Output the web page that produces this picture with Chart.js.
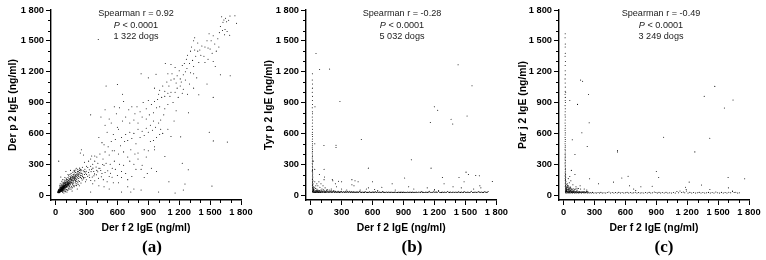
<!DOCTYPE html>
<html><head><meta charset="utf-8">
<style>
html,body{margin:0;padding:0;background:#fff;width:766px;height:260px;overflow:hidden}
canvas{position:absolute;top:0}
.t{position:absolute;font-family:"Liberation Sans",Arial,sans-serif;font-size:9.1px;line-height:11.6px;text-align:center;color:#222;width:120px;top:8px}
.c{position:absolute;font-family:"Liberation Serif",serif;font-weight:bold;font-size:17px;line-height:16px;text-align:center;width:40px;top:239px;color:#000}
</style></head><body>
<canvas id="ca" width="256" height="260" style="left:0"></canvas>
<canvas id="cb" width="254" height="260" style="left:256px"></canvas>
<canvas id="cc" width="256" height="260" style="left:510px"></canvas>
<div class="t" style="left:76px">Spearman r = 0.92<br><i>P</i> &lt; 0.0001<br>1 322 dogs</div>
<div class="t" style="left:342px">Spearman r = -0.28<br><i>P</i> &lt; 0.0001<br>5 032 dogs</div>
<div class="t" style="left:601px">Spearman r = -0.49<br><i>P</i> &lt; 0.0001<br>3 249 dogs</div>
<div class="c" style="left:132px">(a)</div>
<div class="c" style="left:392px">(b)</div>
<div class="c" style="left:644px">(c)</div>
<script src="https://cdn.jsdelivr.net/npm/chart.js@4"></script>
<script>
const majorTicks=[0,300,600,900,1200,1500,1800];
const minorTicks=[100,200,400,500,700,800,1000,1100,1300,1400,1600,1700];
const xTitle="Der f 2 IgE (ng/ml)";
const yTitles=["Der p 2 IgE (ng/ml)","Tyr p 2 IgE (ng/ml)","Par j 2 IgE (ng/ml)"];

const derPointsHigh=[[1693,1741],[1741,1744],[1757,1670],[1612,1735],[1634,1702],[1660,1686],[1625,1680],[1650,1720],[1680,1700],[1600,1640],[1620,1600],[1645,1610],[1665,1590],[1690,1555],[1640,1560],[1590,1580],[1530,1550],[1490,1570],[1510,1500],[1545,1470],[1575,1520],[1470,1500],[1450,1440],[1480,1430],[1500,1420],[1520,1380],[1560,1400],[1585,1440],[1420,1450],[1380,1480],[1350,1530],[1340,1500],[1320,1440],[1310,1400],[1350,1410],[1380,1400],[1400,1410],[1410,1360],[1440,1350],[1360,1350],[1330,1310],[1280,1360],[1270,1320],[1300,1280],[1250,1280],[1275,1230],[1230,1260],[1340,1250],[1390,1290],[1450,1290],[1480,1320],[1530,1300],[1550,1250],[1600,1170],[1695,1160],[1530,950],[1470,1080],[1370,1140],[1310,1190],[1260,1200],[1240,1170],[1200,1210],[1160,1240],[1120,1270],[1065,1280],[1090,1180],[1130,1180],[1180,1160],[1150,1130],[1120,1120],[1080,1100],[1100,1060],[1170,1090],[1220,1100],[1260,1120],[1300,1080],[1340,1040],[1390,975],[1240,1030],[1210,1060],[1180,1040],[1160,1000],[1120,1000],[1090,990],[1060,1010],[1040,1060],[1010,1020],[1000,980],[960,1040],[1030,950],[1060,960],[1110,960],[1190,950],[1230,990],[1280,980],[975,1175],[900,1140],[830,1180],[650,980],[600,1075],[490,1060],[414,1514],[1667,515],[1492,611],[1531,527],[1518,87],[1256,107],[1230,310],[1288,246],[1214,566],[1061,375],[1290,800],[1150,720],[1020,730],[1340,1180],[1210,1130]];
const derPointsMiddle=[[990,930],[960,910],[930,880],[900,920],[880,840],[850,900],[820,810],[790,860],[770,790],[740,860],[710,830],[660,910],[620,850],[570,860],[590,790],[520,740],[480,830],[440,760],[340,780],[480,680],[540,700],[610,640],[650,720],[680,760],[720,700],[760,730],[800,700],[840,760],[880,740],[910,780],[950,800],[980,850],[1010,860],[950,720],[920,680],[880,650],[840,620],[800,640],[760,600],[720,610],[680,590],[640,560],[600,660],[560,590],[500,610],[420,560],[450,510],[470,490],[510,470],[540,520],[580,540],[630,480],[670,520],[700,530],[740,550],[780,500],[820,560],[860,580],[900,610],[940,630],[970,660],[1000,700],[1050,780],[1090,640],[1040,600],[1010,590],[980,560],[950,530],[960,470],[960,440],[900,430],[860,440],[800,410],[770,400],[730,440],[700,370],[660,420],[610,400],[570,430],[550,430],[520,390],[480,420],[430,400],[400,370],[380,380],[350,380],[340,350],[250,440],[240,410],[460,350],[490,310],[530,300],[570,330],[620,300],[660,290],[720,330],[760,300],[800,350],[840,290],[880,370],[920,520],[1120,570],[1170,820],[1090,880],[1140,900],[1060,840],[1020,640]];
const derPointsLow=[[470,290],[430,260],[400,240],[370,230],[350,250],[320,220],[300,200],[330,170],[380,140],[420,260],[450,210],[480,220],[520,180],[550,260],[600,190],[640,230],[680,210],[700,150],[740,180],[780,250],[830,250],[860,170],[890,210],[930,260],[980,230],[420,90],[470,80],[520,60],[360,110],[340,30],[640,30],[700,80],[760,60],[730,30],[830,50],[1000,30],[1160,20],[1240,50],[1100,130],[560,120],[610,120],[640,170],[580,250],[500,130],[270,390],[280,320],[300,280],[340,280],[360,300],[410,310],[380,330],[320,330],[260,270],[230,240],[240,250],[215,250],[200,260],[180,240],[190,220],[230,220],[250,210],[240,190],[220,180],[260,180],[280,200],[250,160],[290,130],[220,140],[200,110],[230,90],[180,80],[150,60],[120,50],[160,40],[210,60],[110,30],[80,20],[30,330],[50,175],[90,170],[120,200],[100,230],[145,240],[150,210],[170,200],[160,175],[190,175],[210,190],[225,205],[205,205],[195,195],[180,185],[175,165],[140,180],[130,160],[120,170],[105,150],[150,150],[165,145],[185,150],[200,150],[170,130],[150,125],[130,130],[115,120],[100,125],[90,135],[85,110],[75,125],[60,135],[45,110],[40,95],[125,105],[145,100],[165,105],[190,120],[135,85],[115,90],[155,85],[100,75],[105,55],[85,60],[95,40],[70,35],[130,70],[70,150],[210,170],[235,175],[245,225],[170,95],[215,120]];
const derPointsBlob=[[20,25],[25,22],[28,30],[32,26],[35,35],[30,40],[24,34],[38,24],[42,30],[45,38],[36,44],[28,46],[33,30],[40,40],[44,44],[48,34],[52,42],[50,50],[46,54],[38,52],[34,50],[56,46],[60,52],[54,58],[48,60],[42,58],[62,44],[66,54],[64,62],[58,66],[52,68],[46,66],[70,60],[74,66],[68,72],[62,74],[56,76],[50,74],[78,70],[80,78],[72,80],[66,84],[60,82],[86,76],[84,86],[76,90],[70,92],[92,84],[94,94],[86,98],[80,100],[100,92],[104,104],[96,108],[90,112],[110,100],[114,112],[106,118],[98,122],[120,110],[124,124],[116,130],[108,134],[130,120],[134,136],[126,142],[142,130],[146,148],[136,156],[154,144],[160,160],[150,168],[170,158],[176,178],[164,184],[186,172],[194,194],[180,204],[202,184],[214,214],[196,222],[226,204],[238,238],[30,30],[34,28],[38,34],[42,36],[36,38],[32,36],[40,28],[44,32],[46,42],[50,38],[54,44],[48,46],[44,50],[40,48],[58,50],[60,58],[56,54],[52,56],[48,52],[64,56],[68,64],[62,66],[58,62],[54,62],[72,68],[76,74],[70,74],[64,70],[82,80],[78,84],[74,82],[88,88],[82,92],[96,98],[26,28],[30,24],[34,22],[38,30],[28,34],[31,33],[36,31],[41,34],[33,41],[43,39],[47,47],[51,45],[39,43],[55,49],[49,55],[57,57],[61,55],[53,61],[65,59],[59,69],[67,67],[71,65],[63,77],[75,71],[79,75],[69,79],[83,83],[77,87],[89,81],[91,91],[99,87],[85,93],[103,97],[97,103],[111,107],[93,117],[118,102],[122,116],[128,112],[112,126],[138,124],[132,148],[148,136],[158,150],[144,160],[168,172],[182,162],[190,184],[176,196],[208,200],[220,228],[35,60],[30,55],[45,75],[55,90],[60,105],[75,100],[85,125],[100,145],[65,40],[75,45],[85,50],[95,60],[110,75],[120,85],[25,45],[140,110],[155,120],[175,140],[195,135]];
const derPointsSpread=[[37,68],[43,82],[52,96],[64,118],[78,112],[88,146],[103,163],[117,152],[126,188],[139,201],[152,187],[167,221],[181,229],[196,243],[212,231],[233,262],[251,244],[268,236],[284,252],[297,231],[312,268],[327,246],[344,228],[362,262],[378,206],[393,272],[409,226],[438,238],[457,298],[506,236],[533,212],[548,174],[68,28],[83,38],[97,33],[112,48],[124,62],[138,58],[149,76],[163,72],[176,88],[188,96],[203,92],[218,104],[231,132],[246,118],[258,146],[272,158],[285,170],[298,148],[311,182],[326,196],[341,142],[356,176],[372,188],[396,198],[416,164],[444,178],[463,150],[54,38],[72,52],[91,70],[108,88],[127,96],[143,118],[158,128],[173,118],[192,142],[207,158],[224,162],[243,172],[262,204],[277,226],[292,214],[66,98],[81,72],[94,108],[107,82],[119,138],[133,98],[147,172],[161,116],[178,146],[193,164],[206,132],[222,196],[238,208],[255,190],[269,172],[283,228],[22,32],[27,38],[33,46],[39,38],[45,46],[51,34],[56,62],[62,50],[68,58],[74,56],[80,66],[86,68],[92,76],[98,72],[104,84],[110,90],[116,100],[122,98],[128,104],[134,112],[26,34],[31,28],[37,42],[43,48],[49,42],[55,38],[61,46],[67,48],[73,60],[79,62]];

const tyrColumn=[[17,1180],[16,1120],[18,1080],[17,1040],[16,1000],[18,960],[17,920],[18,880],[16,850],[17,810],[18,790],[16,760],[18,730],[17,700],[16,670],[18,640],[17,610],[16,590],[18,570],[17,545],[16,520],[18,500],[17,480],[16,460],[18,445],[17,425],[16,410],[18,390],[17,375],[16,360],[18,340],[17,325],[16,310],[18,295],[17,280],[19,265],[18,250],[17,240],[16,228],[19,216],[20,205],[18,195],[17,185],[21,175],[19,165],[18,155],[17,148],[22,140],[20,132],[18,125],[17,118],[23,110],[20,104],[18,98],[17,92],[24,86],[21,80],[19,74],[26,70],[22,65],[18,60],[28,56],[24,52],[20,48],[30,46],[26,42],[22,38],[19,35]];
const tyrFloor=[[20,30],[24,24],[28,33],[32,26],[36,38],[40,24],[44,30],[48,42],[52,26],[56,34],[60,24],[64,46],[68,28],[72,36],[76,24],[80,30],[84,44],[88,26],[92,34],[96,24],[100,50],[106,28],[112,36],[118,24],[124,30],[130,42],[136,26],[142,34],[148,24],[154,46],[160,28],[168,36],[176,24],[184,30],[192,40],[200,26],[208,34],[216,24],[224,44],[232,28],[240,36],[250,24],[260,30],[270,38],[280,26],[292,34],[304,24],[316,30],[328,28],[340,36],[352,24],[364,30],[376,38],[388,26],[400,24],[412,34],[424,28],[436,24],[448,32],[460,26],[472,36],[486,24],[500,30],[514,26],[528,34],[542,24],[556,28],[570,32],[584,24],[598,30],[612,26],[626,34],[640,24],[654,28],[668,30],[682,24],[696,34],[710,26],[726,28],[742,24],[756,30],[772,26],[788,24],[802,28],[818,30],[834,24],[848,28],[862,24],[876,30],[890,26],[904,24],[918,28],[934,26],[950,24],[964,30],[978,26],[992,24],[1006,28],[1022,30],[1040,24],[1058,28],[1072,34],[1086,26],[1100,24],[1118,30],[1134,26],[1150,36],[1166,24],[1184,28],[1198,42],[1212,30],[1226,26],[1240,34],[1258,24],[1276,30],[1292,26],[1310,24],[1328,34],[1346,26],[1362,24],[1380,30],[1398,26],[1416,24],[1434,32],[1452,26],[1470,24],[1488,34],[1506,26],[1524,30],[1542,24],[1558,38],[1576,26],[1594,30],[1612,24],[1630,34],[1648,28],[1666,24],[1684,32],[1702,26],[1720,34]];
const tyrFloorDense=[[22,40],[30,44],[34,52],[26,58],[38,30],[46,26],[50,36],[58,44],[62,30],[66,36],[74,28],[78,42],[82,34],[90,40],[94,28],[102,34],[108,42],[114,30],[120,38],[126,52],[132,32],[138,40],[144,28],[150,36],[156,30],[164,40],[172,30],[180,38],[188,28],[196,34],[204,42],[212,30],[220,34],[228,38],[236,26],[244,32],[256,36],[266,26],[276,32],[288,28],[300,36],[310,28],[322,34],[334,26],[346,30],[358,34],[370,26],[382,30],[394,34],[406,28],[418,26],[430,32],[442,26],[454,30],[466,28],[480,32],[494,26],[508,28],[522,26],[536,30],[550,26],[564,26],[578,28],[592,26],[606,30],[620,28],[634,26],[648,32],[662,26],[676,28],[690,26],[704,30],[718,26],[734,30],[748,26],[764,28],[780,30],[796,26],[810,26],[826,28],[842,26],[856,30],[870,26],[884,28],[898,30],[912,26],[926,24],[942,30],[958,28],[972,24],[986,30],[1000,26],[1014,24],[1030,26],[1048,30],[1066,26],[1080,30],[1094,28],[1110,26],[1126,24],[1142,30],[1158,28],[1176,26],[1190,32],[1204,26],[1220,30],[1250,28],[1268,26],[1284,24],[1300,30],[1318,28],[1338,28],[1354,30],[1372,26],[1390,24],[1408,30],[1426,26],[1444,28],[1462,30],[1480,26],[1498,28],[1516,26],[1534,26],[1550,30],[1568,24],[1586,28],[1604,26],[1622,30],[1640,26],[1658,30],[1676,26],[1694,30],[1712,28]];
const tyrScatter=[[52,1377],[87,1222],[184,1225],[284,911],[129,482],[246,485],[246,462],[491,540],[1429,1267],[1564,1063],[1199,860],[1231,824],[1160,705],[1361,737],[1377,692],[1516,769],[976,343],[1167,262],[559,262],[42,860],[1506,223],[1529,200],[1600,190],[1635,187],[1761,132],[1438,171],[1277,171],[1487,130],[1293,110],[911,165],[40,500],[25,330],[40,250],[130,250],[85,200],[135,175],[130,150],[80,130],[210,150],[215,140],[270,135],[300,130],[400,150],[430,140],[460,130],[400,100],[420,90],[240,110],[250,80],[600,130],[540,60],[560,70],[620,55],[690,75],[790,110],[950,80],[1000,60],[1130,70],[1200,55],[1240,45],[1380,80],[1460,70],[1640,90],[1650,70],[1580,60],[60,110],[70,90],[90,75],[110,60],[120,90],[140,70],[160,55],[180,50],[100,110],[40,130],[50,90],[35,75],[45,65],[60,60],[70,50],[200,60],[300,60],[350,50],[480,50],[650,45],[820,50]];

const parColumn=[[15,1570],[14,1530],[16,1470],[15,1440],[16,1380],[14,1350],[17,1300],[15,1260],[15,1210],[16,1170],[14,1130],[15,1090],[16,1050],[15,1010],[14,980],[16,950],[15,920],[17,900],[14,870],[16,840],[15,810],[14,780],[16,760],[15,730],[14,700],[16,675],[15,650],[14,630],[16,605],[15,585],[14,560],[16,540],[15,520],[14,500],[16,480],[15,465],[14,445],[16,430],[15,410],[14,395],[16,380],[15,365],[14,350],[16,335],[15,320],[14,305],[16,290],[15,275],[17,260],[16,248],[18,235],[15,225],[16,212],[19,200],[15,190],[16,180],[20,170],[15,160],[18,150],[16,142],[22,134],[17,126],[20,118],[16,110],[24,103],[18,96],[21,90],[16,84],[25,78],[19,72],[22,66],[17,60],[27,55],[20,50],[24,45],[17,40],[30,36],[19,32]];
const parFloor=[[18,22],[22,28],[26,20],[30,34],[34,24],[38,30],[42,20],[46,38],[50,26],[54,20],[58,32],[62,24],[66,42],[70,20],[74,30],[78,26],[82,36],[86,20],[90,28],[94,24],[98,34],[104,20],[110,28],[116,22],[122,36],[128,20],[134,30],[140,24],[146,20],[152,34],[158,22],[166,28],[174,20],[182,24],[190,34],[198,20],[206,28],[214,22],[222,36],[230,20],[238,26],[248,20],[258,24],[268,20],[280,26],[292,20],[306,22],[320,20],[334,24],[348,20],[362,26],[376,20],[392,22],[408,20],[424,24],[440,30],[456,20],[472,24],[488,20],[504,24],[520,20],[536,26],[552,20],[568,24],[584,20],[600,22],[616,26],[632,20],[648,24],[664,20],[680,22],[696,28],[712,20],[728,24],[744,20],[760,22],[778,20],[796,24],[812,20],[830,26],[846,20],[862,22],[880,30],[896,24],[910,20],[926,26],[942,20],[958,24],[976,20],[994,26],[1012,20],[1030,22],[1048,20],[1066,24],[1084,20],[1100,34],[1116,22],[1130,40],[1146,24],[1162,30],[1176,22],[1192,40],[1208,20],[1226,26],[1244,20],[1262,24],[1280,20],[1298,22],[1316,26],[1334,20],[1352,24],[1370,20],[1388,22],[1406,26],[1424,20],[1442,24],[1460,20],[1478,30],[1496,22],[1514,20],[1532,26],[1550,20],[1568,24],[1586,20],[1604,28],[1622,22],[1640,34],[1656,24],[1672,28],[1690,20],[1706,22]];
const parCorner=[[20,40],[24,36],[28,48],[32,42],[36,56],[40,36],[44,50],[48,30],[52,44],[56,36],[60,28],[64,34],[68,48],[72,32],[76,40],[80,24],[84,32],[88,40],[92,24],[96,30],[100,40],[106,32],[112,24],[118,34],[124,28],[130,40],[136,24],[142,32],[148,28],[154,24],[160,32],[170,26],[178,34],[186,28],[194,24],[202,32],[210,26],[218,30],[226,24],[234,34],[22,60],[26,72],[30,66],[34,84],[38,76],[42,92],[46,68],[50,60],[54,72],[58,58],[62,64],[68,78],[74,62],[82,52],[92,62],[104,56],[116,60],[130,66],[145,64],[165,58]];
const parScatter=[[165,1118],[184,1108],[242,979],[135,882],[248,703],[177,607],[84,537],[110,394],[229,472],[523,433],[523,420],[971,563],[1419,553],[1274,420],[1365,960],[1468,1057],[1561,847],[1645,925],[900,229],[923,171],[1758,158],[1597,171],[626,184],[565,165],[484,126],[339,110],[252,158],[1219,126],[1184,77],[1339,97],[60,920],[20,1000],[75,240],[110,200],[60,180],[45,160],[70,140],[55,120],[35,110],[90,100],[120,80],[160,90],[200,60],[225,50],[40,95],[50,80],[65,70],[80,55],[100,45],[130,50],[60,50],[45,55],[640,90],[680,60],[750,80],[700,45],[860,85],[1420,55],[1600,70],[1190,55],[1640,40]];

const seriesA=[...derPointsHigh,...derPointsMiddle,...derPointsLow,...derPointsBlob,...derPointsSpread];
const seriesB=[...tyrColumn,...tyrFloor,...tyrFloorDense,...tyrScatter];
const seriesC=[...parColumn,...parFloor,...parCorner,...parScatter];

const minorTickPlugin={id:'minorTicks',afterDraw(ch){
  const g=ch.ctx,xs=ch.scales.x,ys=ch.scales.y;
  g.save();g.strokeStyle='#000';g.lineWidth=1;g.beginPath();
  minorTicks.forEach(v=>{
    const px=Math.round(xs.getPixelForValue(v))+.5, py=Math.round(ys.getPixelForValue(v))+.5;
    g.moveTo(px,ch.chartArea.bottom);g.lineTo(px,ch.chartArea.bottom+3);
    g.moveTo(ch.chartArea.left,py);g.lineTo(ch.chartArea.left-3,py);
  });
  g.stroke();g.restore();
}};
const fmt=v=>String(v).replace(/\B(?=(\d{3})+$)/g,' ');
function draw(id,points,yTitle,axisLeft,xMin,rightPad){
  new Chart(document.getElementById(id),{
    type:'scatter',
    data:{datasets:[{data:points.map(p=>({x:p[0],y:p[1]})),pointRadius:0.52,pointBorderWidth:0,backgroundColor:'#000',pointHoverRadius:0}]},
    plugins:[minorTickPlugin],
    options:{responsive:false,animation:false,events:[],
      layout:{padding:{left:0,top:10,right:rightPad,bottom:26}},
      plugins:{legend:{display:false},tooltip:{enabled:false}},
      scales:{
        x:{type:'linear',min:xMin,max:1800,
          afterBuildTicks:s=>{s.ticks=majorTicks.map(v=>({value:v}))},
          afterFit:s=>{s.height=34},
          border:{color:'#000',width:1.4},
          grid:{display:true,drawOnChartArea:false,drawTicks:true,tickLength:5,color:'#000',lineWidth:1},
          ticks:{autoSkip:false,maxRotation:0,minRotation:0,padding:2,color:'#000',font:{family:'Liberation Sans',size:9.3,weight:'bold'},callback:fmt},
          title:{display:true,text:xTitle,color:'#000',padding:{top:0,bottom:0},font:{family:'Liberation Sans',size:10.4,weight:'bold'}}},
        y:{type:'linear',min:-48,max:1800,
          afterBuildTicks:s=>{s.ticks=majorTicks.map(v=>({value:v}))},
          afterFit:s=>{s.width=axisLeft},
          border:{color:'#000',width:1.4},
          grid:{display:true,drawOnChartArea:false,drawTicks:true,tickLength:5,color:'#000',lineWidth:1},
          ticks:{autoSkip:false,padding:2,color:'#000',font:{family:'Liberation Sans',size:9.3,weight:'bold'},callback:fmt},
          title:{display:true,text:yTitle,color:'#000',padding:{top:7,bottom:0},font:{family:'Liberation Sans',size:10.4,weight:'bold'}}}
      }}
  });
}
draw('ca',seriesA,yTitles[0],51,-45,15);
draw('cb',seriesB,yTitles[1],50,-45,13);
draw('cc',seriesC,yTitles[2],49,-45,17);
</script>
</body></html>
